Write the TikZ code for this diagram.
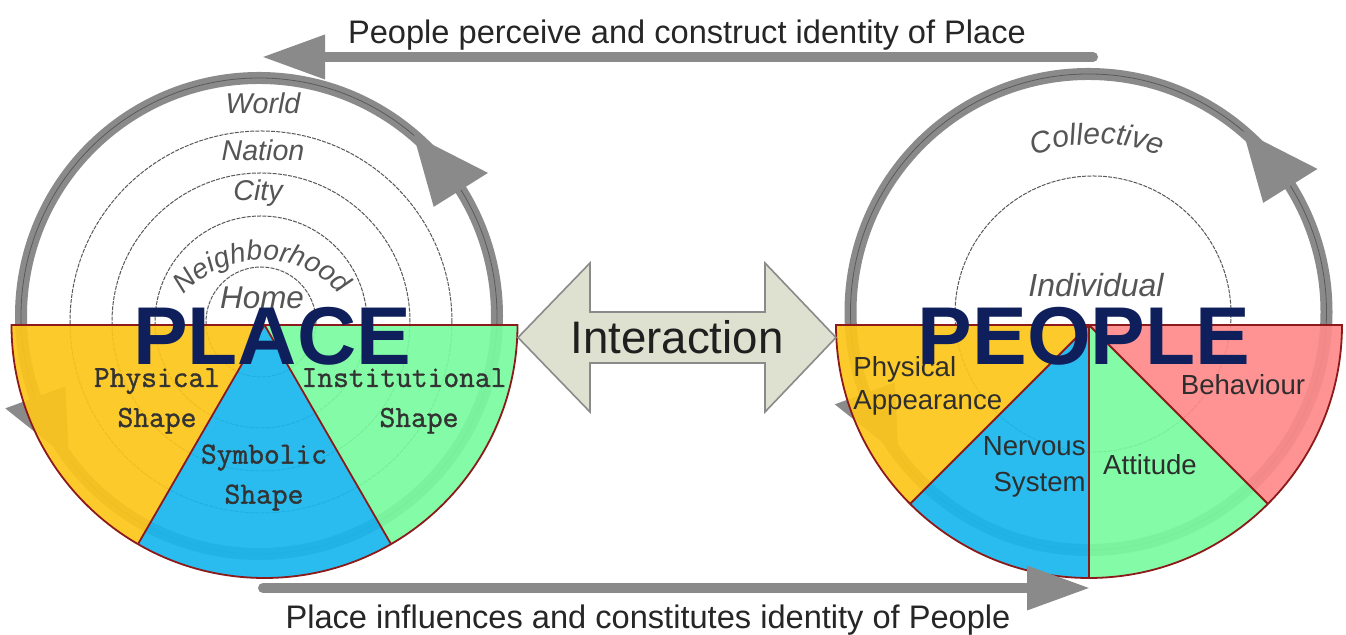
\documentclass[tikz,border=0pt]{standalone}
\usepackage{fontspec}
\setmainfont{Liberation Sans}
\newfontface\shapefont{Latin Modern Mono}[FakeBold=1.2]
\usetikzlibrary{arrows.meta,decorations.text}
\definecolor{pyel}{HTML}{FDC61B}
\definecolor{pblue}{HTML}{1AB7EE}
\definecolor{pgreen}{HTML}{7AFBA0}
\definecolor{ppink}{HTML}{FF8A8A}
\definecolor{pborder}{HTML}{8C1A1A}
\definecolor{navy}{HTML}{0E1F5C}
\definecolor{ringgray}{HTML}{8A8A8A}
\definecolor{ringdark}{HTML}{5A5A5A}
\definecolor{labgray}{HTML}{555555}
\definecolor{ifill}{HTML}{DEE1CF}
\definecolor{iborder}{HTML}{8A8A8A}
\begin{document}
\begin{tikzpicture}[x=0.5pt,y=0.5pt,
  ring/.style={draw=ringgray, line width=6pt},
  ringmid/.style={draw=ringdark, line width=0.4pt},
  scalecirc/.style={draw=gray!70!black, line width=0.5pt, dash pattern=on 2pt off 0.6pt},
  sector/.style={fill opacity=0.92},
  pieborder/.style={draw=pborder, line width=0.9pt},
  ringlab/.style={text=labgray, font=\itshape\fontsize{14.3pt}{17pt}\selectfont, inner sep=0pt},
  shapelab/.style={text=black!80, font=\shapefont\fontsize{15.3pt}{20pt}\selectfont, align=center, inner sep=0pt},
  peoplelab/.style={text=black!82, font=\fontsize{13.8pt}{16.5pt}\selectfont, inner sep=0pt},
  bigword/.style={text=navy, font=\bfseries\fontsize{41pt}{41pt}\selectfont, inner sep=0pt, anchor=base},
  flowtext/.style={text=black!85, font=\fontsize{16.3pt}{19pt}\selectfont, inner sep=0pt, anchor=base},
  flowarrow/.style={draw=ringgray, line width=5pt, line cap=round, -{Triangle[length=31.5pt,width=21pt]}},
]
\useasboundingbox (0,0) rectangle (1346,635);
\fill[white] (0,0) rectangle (1346,635);

% centres
\coordinate (LC) at (264.5,310);
\coordinate (LRC) at (259,319);
\coordinate (LS) at (261,313);
\coordinate (RC) at (1089,310);
\coordinate (RRC) at (1088.5,323);
\coordinate (RS) at (1093,321);

% scale circles
\draw[scalecirc] (LS) circle[radius=191];
\draw[scalecirc] (LS) circle[radius=149];
\draw[scalecirc] (LS) circle[radius=106];
\draw[scalecirc] (LS) circle[radius=55];
\draw[scalecirc] (RS) circle[radius=138];

% rings
\draw[ring] (LRC) circle[radius=238];
\draw[ringmid] (LRC) circle[radius=238];
\fill[ringgray] ([shift={(49.5:238)}]LRC) -- ([shift={(32:270)}]LRC) -- ([shift={(32:206)}]LRC) -- cycle;
\fill[ringgray] ([shift={(217:238)}]LRC) -- ([shift={(200:270)}]LRC) -- ([shift={(200:206)}]LRC) -- cycle;
\draw[ring] (RRC) circle[radius=238];
\draw[ringmid] (RRC) circle[radius=238];
\fill[ringgray] ([shift={(49.5:238)}]RRC) -- ([shift={(32:270)}]RRC) -- ([shift={(32:206)}]RRC) -- cycle;
\fill[ringgray] ([shift={(217:238)}]RRC) -- ([shift={(200:270)}]RRC) -- ([shift={(200:206)}]RRC) -- cycle;

% left pie
\fill[pyel, sector] (LC) -- ([shift={(180:253)}]LC) arc[start angle=180, end angle=240, radius=253] -- cycle;
\fill[pblue, sector] (LC) -- ([shift={(240:253)}]LC) arc[start angle=240, end angle=300, radius=253] -- cycle;
\fill[pgreen, sector] (LC) -- ([shift={(300:253)}]LC) arc[start angle=300, end angle=360, radius=253] -- cycle;
\draw[pieborder] ([shift={(180:253)}]LC) arc[start angle=180, end angle=360, radius=253] -- cycle;
\draw[pieborder] (LC) -- ([shift={(240:253)}]LC) (LC) -- ([shift={(300:253)}]LC);

% right pie
\fill[pyel, sector] (RC) -- ([shift={(180:253)}]RC) arc[start angle=180, end angle=225, radius=253] -- cycle;
\fill[pblue, sector] (RC) -- ([shift={(225:253)}]RC) arc[start angle=225, end angle=270, radius=253] -- cycle;
\fill[pgreen, sector] (RC) -- ([shift={(270:253)}]RC) arc[start angle=270, end angle=315, radius=253] -- cycle;
\fill[ppink, sector] (RC) -- ([shift={(315:253)}]RC) arc[start angle=315, end angle=360, radius=253] -- cycle;
\draw[pieborder] ([shift={(180:253)}]RC) arc[start angle=180, end angle=360, radius=253] -- cycle;
\draw[pieborder] (RC) -- ([shift={(225:253)}]RC) (RC) -- ([shift={(270:253)}]RC) (RC) -- ([shift={(315:253)}]RC);

% interaction arrow
\draw[draw=iborder, fill=ifill, line width=0.8pt] (518,297.5) -- (590,372) -- (590,323) -- (765,323) -- (765,372) -- (836,297.5) -- (765,223) -- (765,272) -- (590,272) -- (590,223) -- cycle;
\node[font=\fontsize{22.8pt}{26pt}\selectfont, text=black!88, inner sep=0pt] (inter) at (677,298) {Interaction};

% flow arrows
\coordinate (toptail) at (1093,578);
\coordinate (toptip) at (262,578);
\draw[flowarrow] (toptail) -- (toptip);
\coordinate (bottail) at (263,47);
\coordinate (bottip) at (1090,47);
\draw[flowarrow] (bottail) -- (bottip);
\node[flowtext] (toptext) at (687,591) {People perceive and construct identity of Place};
\node[flowtext] (bottext) at (648,6) {Place influences and constitutes identity of People};

% place scale labels
\node[ringlab] (world) at (263,532) {World};
\node[ringlab] (nation) at (263,485) {Nation};
\node[ringlab] (city) at (258,442) {City};
\node[ringlab, font=\itshape\fontsize{15.7pt}{18pt}\selectfont] (home) at (262,337) {Home};
\path[decorate, decoration={text along path, text color=labgray, text align=center,
  text={|\itshape\fontsize{14pt}{17pt}\selectfont|Neighborhood}}]
  (262,271) ++(142:104) arc[start angle=142, end angle=38, radius=104];

% people scale labels
\path[decorate, decoration={text along path, text color=labgray, text align=center,
  text={|\itshape\fontsize{15pt}{18pt}\selectfont|Collective}}]
  (1097,310) ++(120:181) arc[start angle=120, end angle=60, radius=181];
\node[ringlab, font=\itshape\fontsize{16pt}{19pt}\selectfont] (indiv) at (1096,350) {Individual};

% left pie labels
\node[shapelab] (phys) at (157,234) {Physical\\Shape};
\node[shapelab] (inst) at (404,234) {Institutional\\\hspace*{15pt}Shape};
\node[shapelab] (symb) at (264,157.5) {Symbolic\\Shape};

% right pie labels
\node[peoplelab, anchor=west, align=left] (physapp) at (853,249) {Physical\\Appearance};
\node[peoplelab] (behav) at (1243,250) {Behaviour};
\node[peoplelab, anchor=east, align=right, font=\fontsize{13.8pt}{18pt}\selectfont] (nerv) at (1086,168) {Nervous\\System};
\node[peoplelab] (att) at (1150,170) {Attitude};

% big words
\node[bigword] (place) at (272,270) {PLACE};
\node[bigword] (people) at (1084,270) {PEOPLE};
\end{tikzpicture}
\end{document}
